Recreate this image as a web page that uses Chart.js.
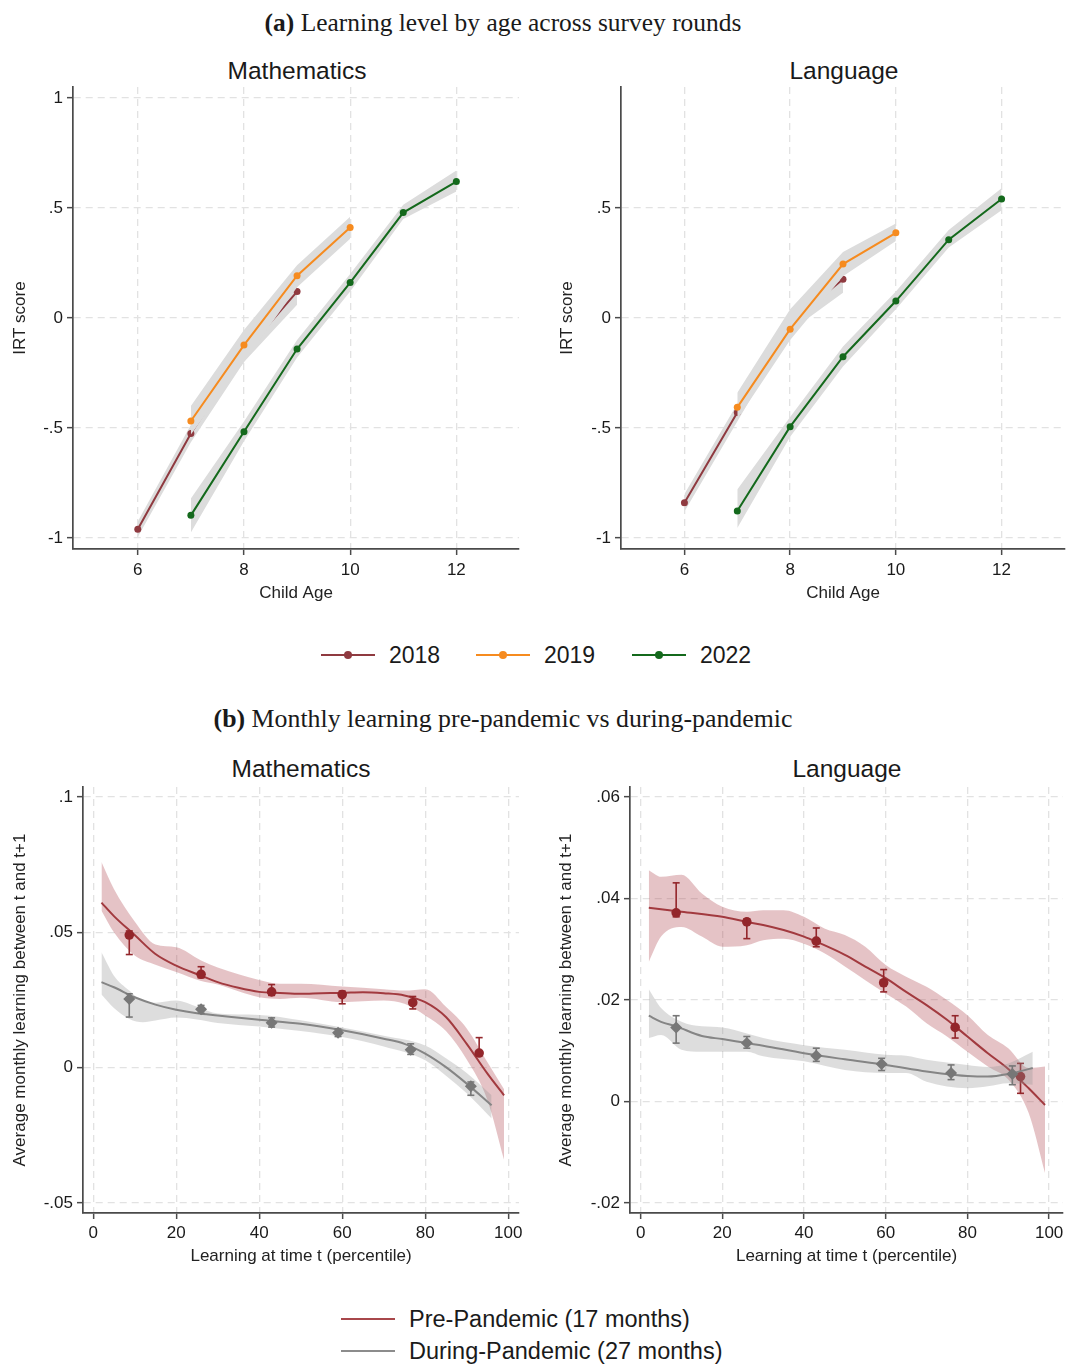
<!DOCTYPE html>
<html><head><meta charset="utf-8">
<script src="https://cdn.jsdelivr.net/npm/chart.js@4.4.1/dist/chart.umd.min.js"></script>
<style>
html,body{margin:0;padding:0;background:#fff;}
body{width:1069px;height:1364px;position:relative;overflow:hidden;font-family:'Liberation Sans',Arial,sans-serif;color:#1a1a1a;}
canvas{position:absolute;}
.c{position:absolute;white-space:nowrap;transform:translate(-50%,-50%);}
.l{position:absolute;white-space:nowrap;transform:translateY(-50%);}
.hdr{font-family:'Liberation Serif','Times New Roman',serif;font-size:22px;}
.ptitle{font-size:24.5px;color:#1a1a1a;}
.seg{position:absolute;height:2px;}
.dot{position:absolute;width:8px;height:8px;border-radius:50%;}
</style></head>
<body>
<div id="hA" class="c hdr" style="left:503px;top:23px"><b>(a)</b> Learning level by age across survey rounds</div>
<div id="hB" class="c hdr" style="left:503px;top:719px"><b>(b)</b> Monthly learning pre-pandemic vs during-pandemic</div>
<div class="c ptitle" style="left:297px;top:71px">Mathematics</div>
<div class="c ptitle" style="left:844px;top:71px">Language</div>
<div class="c ptitle" style="left:301px;top:769px">Mathematics</div>
<div class="c ptitle" style="left:847px;top:769px">Language</div>

<canvas id="cA1" width="530" height="590" style="left:0px;top:40px"></canvas>
<canvas id="cA2" width="529" height="590" style="left:540px;top:40px"></canvas>
<canvas id="cB1" width="530" height="540" style="left:0px;top:740px"></canvas>
<canvas id="cB2" width="529" height="540" style="left:540px;top:740px"></canvas>

<!-- legend (a) -->
<div class="seg" style="left:321px;top:654px;width:54px;background:#8f3a40"></div>
<div class="dot" style="left:344px;top:651px;background:#8f3a40"></div>
<div class="l" style="left:389px;top:655px;font-size:23px">2018</div>
<div class="seg" style="left:476px;top:654px;width:54px;background:#f68b1f"></div>
<div class="dot" style="left:499px;top:651px;background:#f68b1f"></div>
<div class="l" style="left:544px;top:655px;font-size:23px">2019</div>
<div class="seg" style="left:632px;top:654px;width:54px;background:#14691c"></div>
<div class="dot" style="left:655px;top:651px;background:#14691c"></div>
<div class="l" style="left:700px;top:655px;font-size:23px">2022</div>

<!-- legend (b) -->
<div class="seg" style="left:341px;top:1318px;width:54px;background:#a8474b"></div>
<div class="l" style="left:409px;top:1319px;font-size:23.5px">Pre-Pandemic (17 months)</div>
<div class="seg" style="left:341px;top:1350px;width:54px;background:#8c8c8c"></div>
<div class="l" style="left:409px;top:1351px;font-size:23.5px">During-Pandemic (27 months)</div>

<script>
// ================= DATA =================
// Panel (a): learning level by age
const ageTicks = [6, 8, 10, 12];
const ageTickLabels = ['6', '8', '10', '12'];
const irtTicksMath = [-1, -0.5, 0, 0.5, 1];
const irtLabelsMath = ['-1', '-.5', '0', '.5', '1'];
const irtTicksLang = [-1, -0.5, 0, 0.5];
const irtLabelsLang = ['-1', '-.5', '0', '.5'];

const ages2018 = [6, 7, 8, 9];
const ages2019 = [7, 8, 9, 10];
const ages2022 = [7, 8, 9, 10, 11, 12];

const math2018   = [-0.96, -0.525, -0.16, 0.12];
const math2018Hi = [-0.925, -0.485, -0.11, 0.165];
const math2018Lo = [-0.995, -0.565, -0.20, 0.06];
const math2019   = [-0.468, -0.123, 0.192, 0.411];
const math2019Hi = [-0.40, -0.055, 0.24, 0.46];
const math2019Lo = [-0.53, -0.20, 0.14, 0.36];
const math2022   = [-0.897, -0.517, -0.141, 0.161, 0.479, 0.62];
const math2022Hi = [-0.82, -0.47, -0.10, 0.20, 0.515, 0.67];
const math2022Lo = [-0.975, -0.56, -0.18, 0.12, 0.45, 0.575];

const lang2018   = [-0.84, -0.43, -0.02, 0.176];
const lang2018Hi = [-0.80, -0.39, 0.02, 0.21];
const lang2018Lo = [-0.88, -0.47, -0.06, 0.115];
const lang2019   = [-0.406, -0.051, 0.245, 0.387];
const lang2019Hi = [-0.34, 0.04, 0.30, 0.43];
const lang2019Lo = [-0.46, -0.10, 0.19, 0.35];
const lang2022   = [-0.877, -0.494, -0.176, 0.077, 0.356, 0.541];
const lang2022Hi = [-0.78, -0.45, -0.13, 0.12, 0.40, 0.59];
const lang2022Lo = [-0.955, -0.54, -0.22, 0.04, 0.32, 0.49];

// Panel (b): monthly learning by percentile
const pctTicks = [0, 20, 40, 60, 80, 100];
const pctTickLabels = ['0', '20', '40', '60', '80', '100'];
const gainTicksMath = [-0.05, 0, 0.05, 0.1];
const gainLabelsMath = ['-.05', '0', '.05', '.1'];
const gainTicksLang = [-0.02, 0, 0.02, 0.04, 0.06];
const gainLabelsLang = ['-.02', '0', '.02', '.04', '.06'];

// Mathematics, pre-pandemic
const mPreCurveX = [2, 5, 10, 15, 20, 26, 30, 35, 40, 45, 50, 55, 60, 65, 70, 75, 80, 85, 90, 95, 99];
const mPreCurveY = [0.061, 0.056, 0.049, 0.042, 0.0377, 0.034, 0.0316, 0.0295, 0.028, 0.0276, 0.0273, 0.0275, 0.0276, 0.0279, 0.0275, 0.0267, 0.0242, 0.0187, 0.0088, -0.0022, -0.0102];
const mPreBandX  = [2, 5, 10, 15, 20, 26, 30, 40, 45, 50, 60, 70, 75, 80, 85, 90, 95, 99];
const mPreBandHi = [0.076, 0.066, 0.054, 0.0455, 0.0445, 0.0396, 0.037, 0.0324, 0.031, 0.031, 0.030, 0.029, 0.0285, 0.029, 0.0225, 0.0145, 0.002, -0.008];
const mPreBandLo = [0.058, 0.050, 0.0414, 0.038, 0.0353, 0.032, 0.0307, 0.026, 0.0254, 0.0258, 0.0242, 0.0248, 0.0236, 0.0193, 0.0135, 0.003, -0.012, -0.034];
const mPrePtX  = [8.7, 26, 43, 60, 77, 93];
const mPrePtY  = [0.049, 0.0345, 0.028, 0.027, 0.024, 0.0054];
const mPrePtLo = [0.0418, 0.0332, 0.0267, 0.0236, 0.0217, 0.0045];
const mPrePtHi = [0.0505, 0.0373, 0.0307, 0.0283, 0.0263, 0.0111];

// Mathematics, during-pandemic
const mDurCurveX = [2, 5, 10, 15, 20, 25, 30, 40, 50, 60, 70, 75, 80, 85, 90, 96];
const mDurCurveY = [0.0316, 0.0297, 0.026, 0.0233, 0.0214, 0.0201, 0.0193, 0.0177, 0.0162, 0.0138, 0.0107, 0.0088, 0.0052, 0.0002, -0.0059, -0.0139];
const mDurBandX  = [2, 5, 8.7, 12, 15, 20, 25, 30, 40, 50, 60, 70, 80, 85, 90, 96];
const mDurBandHi = [0.0426, 0.034, 0.0285, 0.0245, 0.024, 0.0248, 0.0225, 0.020, 0.0195, 0.0175, 0.0148, 0.0118, 0.0082, 0.0035, -0.002, -0.0102];
const mDurBandLo = [0.027, 0.022, 0.018, 0.0168, 0.0174, 0.0185, 0.0178, 0.0165, 0.0152, 0.0135, 0.0113, 0.0078, 0.0027, -0.003, -0.0095, -0.0188];
const mDurPtX  = [8.7, 26, 43, 59, 76.5, 91];
const mDurPtY  = [0.0254, 0.0216, 0.0166, 0.0129, 0.0066, -0.0069];
const mDurPtLo = [0.0187, 0.0201, 0.015, 0.0115, 0.0049, -0.0102];
const mDurPtHi = [0.0273, 0.023, 0.0184, 0.0143, 0.0088, -0.0053];

// Language, pre-pandemic
const lPreCurveX = [2, 10, 20, 26, 30, 35, 40, 43, 50, 55, 60, 65, 70, 75, 80, 85, 90, 95, 99];
const lPreCurveY = [0.0382, 0.0374, 0.0364, 0.0354, 0.0348, 0.0338, 0.0325, 0.0315, 0.0289, 0.0266, 0.0243, 0.0216, 0.019, 0.0161, 0.0128, 0.0095, 0.0064, 0.0026, -0.0007];
const lPreBandX  = [2, 5, 10, 15, 20, 26, 30, 35, 40, 45, 50, 55, 60, 65, 70, 75, 80, 85, 90, 95, 99];
const lPreBandHi = [0.0456, 0.0443, 0.0447, 0.041, 0.0384, 0.0374, 0.0377, 0.0377, 0.0364, 0.0341, 0.0328, 0.0305, 0.0269, 0.0246, 0.0226, 0.020, 0.017, 0.0131, 0.0105, 0.0066, 0.0069];
const lPreBandLo = [0.0275, 0.0325, 0.0344, 0.0325, 0.0305, 0.0308, 0.0318, 0.0321, 0.0311, 0.0292, 0.0266, 0.0239, 0.0213, 0.0187, 0.0154, 0.0128, 0.0098, 0.0069, 0.0043, -0.0023, -0.0141];
const lPrePtX  = [8.7, 26, 43, 59.5, 77, 93];
const lPrePtY  = [0.0372, 0.0354, 0.0316, 0.0234, 0.0146, 0.0049];
const lPrePtLo = [0.0364, 0.0321, 0.0305, 0.0216, 0.0125, 0.0016];
const lPrePtHi = [0.0431, 0.036, 0.0342, 0.026, 0.0169, 0.0075];

// Language, during-pandemic
const lDurCurveX = [2, 5, 8.7, 15, 20, 26, 30, 40, 50, 60, 70, 77, 80, 85, 90, 96];
const lDurCurveY = [0.0169, 0.0157, 0.0148, 0.0129, 0.0123, 0.0115, 0.011, 0.0095, 0.0083, 0.0072, 0.0059, 0.0052, 0.005, 0.0049, 0.0054, 0.0066];
const lDurBandX  = [2, 5, 10, 15, 20, 26, 30, 40, 50, 60, 65, 70, 80, 85, 90, 96];
const lDurBandHi = [0.0221, 0.0184, 0.0157, 0.0148, 0.0146, 0.0134, 0.0125, 0.0111, 0.0102, 0.0092, 0.009, 0.0082, 0.0072, 0.0068, 0.0075, 0.0098];
const lDurBandLo = [0.0125, 0.0131, 0.0102, 0.0098, 0.0098, 0.0098, 0.0089, 0.0079, 0.0062, 0.0056, 0.0056, 0.0039, 0.0026, 0.003, 0.0036, 0.0033];
const lDurPtX  = [8.7, 26, 43, 59, 76, 91];
const lDurPtY  = [0.0146, 0.0115, 0.009, 0.0074, 0.0056, 0.0054];
const lDurPtLo = [0.0115, 0.0105, 0.0079, 0.0061, 0.0043, 0.0033];
const lDurPtHi = [0.0169, 0.0128, 0.0105, 0.0085, 0.0072, 0.007];

// ================= STYLE / HELPERS =================
const FONT = "'Liberation Sans', Arial, sans-serif";
Chart.defaults.font.family = FONT;
Chart.defaults.color = '#1a1a1a';

const C2018 = '#8f3a40', C2019 = '#f68b1f', C2022 = '#14691c';
const BAND_A = 'rgb(220,220,220)';
const CPRE = '#a23a3f', CPRE_PT = '#93262b', CPRE_BAND = 'rgba(170,55,65,0.30)';
const CDUR = '#858585', CDUR_PT = '#777777', CDUR_BAND = 'rgba(150,150,150,0.32)';

function xy(xs, ys) { return xs.map((x, i) => ({ x: x, y: ys[i] })); }
function errData(xs, lo, hi) {
  const d = [];
  xs.forEach((x, i) => { d.push({ x: x, y: lo[i] }, { x: x, y: hi[i] }, { x: x, y: null }); });
  return d;
}
function band(xs, hi, lo, color, order, smooth) {
  const common = { borderWidth: 0, pointRadius: 0, order: order };
  if (smooth) common.cubicInterpolationMode = 'monotone';
  return [
    Object.assign({ data: xy(xs, hi), fill: false }, common),
    Object.assign({ data: xy(xs, lo), fill: '-1', backgroundColor: color }, common)
  ];
}
function series(xs, ys, color, order) {
  return { data: xy(xs, ys), borderColor: color, backgroundColor: color, borderWidth: 2,
           pointRadius: 3.5, pointBackgroundColor: color, pointBorderWidth: 0, fill: false, order: order, tension: 0 };
}
function curve(xs, ys, color, order) {
  return { data: xy(xs, ys), borderColor: color, borderWidth: 2, pointRadius: 0, fill: false,
           cubicInterpolationMode: 'monotone', order: order };
}
function points(xs, ys, color, style, r, order) {
  return { data: xy(xs, ys), showLine: false, pointStyle: style, pointRadius: r, pointBackgroundColor: color,
           pointBorderColor: color, pointBorderWidth: 0, order: order };
}
function errbars(xs, lo, hi, color, order) {
  return { data: errData(xs, lo, hi), borderColor: color, borderWidth: 1.6, spanGaps: false, fill: false,
           pointStyle: 'line', pointRadius: 3.5, pointBorderColor: color, pointBorderWidth: 1.6, order: order };
}

function makeChart(id, o, datasets) {
  const axisColor = '#4a4a4a';
  return new Chart(document.getElementById(id), {
    type: 'line',
    data: { datasets: datasets },
    options: {
      responsive: false, animation: false, devicePixelRatio: 1,
      layout: { padding: o.pad },
      plugins: { legend: { display: false }, tooltip: { enabled: false }, title: { display: false } },
      scales: {
        x: {
          type: 'linear', min: o.xmin, max: o.xmax,
          afterBuildTicks: s => { s.ticks = o.xticks.map(v => ({ value: v })); },
          afterFit: s => { s.height = o.xh; },
          ticks: { callback: v => { const i = o.xticks.indexOf(v); return i >= 0 ? o.xlabels[i] : ''; },
                   font: { size: 17 }, color: '#1a1a1a', padding: o.xpad, maxRotation: 0, autoSkip: false },
          grid: { color: '#e2e2e2', lineWidth: 1.3, tickLength: 6, tickColor: axisColor, tickWidth: 1.5, tickBorderDash: [] },
          border: { display: true, color: axisColor, width: 1.7, dash: [7, 5] },
          title: { display: true, text: o.xtitle, font: { size: 17 }, color: '#222', padding: { top: 0, bottom: o.xtpad } }
        },
        y: {
          type: 'linear', min: o.ymin, max: o.ymax,
          afterBuildTicks: s => { s.ticks = o.yticks.map(v => ({ value: v })); },
          afterFit: s => { s.width = o.yw; },
          ticks: { callback: v => { const i = o.yticks.indexOf(v); return i >= 0 ? o.ylabels[i] : ''; },
                   font: { size: 17 }, color: '#1a1a1a', padding: 4, autoSkip: false },
          grid: { color: '#e2e2e2', lineWidth: 1.3, tickLength: 6, tickColor: axisColor, tickWidth: 1.5, tickBorderDash: [] },
          border: { display: true, color: axisColor, width: 1.7, dash: [7, 5] },
          title: { display: true, text: o.ytitle, font: { size: 17 }, color: '#222', padding: { top: o.ytpad, bottom: 0 } }
        }
      }
    }
  });
}

// ================= PANEL (a) =================
makeChart('cA1', {
  pad: { left: 0, right: 11, top: 47, bottom: 0 }, yw: 73, xh: 81, xpad: 5, xtpad: 26, ytpad: 10,
  xmin: 4.78, xmax: 13.18, xticks: ageTicks, xlabels: ageTickLabels, xtitle: 'Child Age',
  ymin: -1.05, ymax: 1.05, yticks: irtTicksMath, ylabels: irtLabelsMath, ytitle: 'IRT score'
}, [
  ...band(ages2018, math2018Hi, math2018Lo, BAND_A, 60),
  series(ages2018, math2018, C2018, 50),
  ...band(ages2019, math2019Hi, math2019Lo, BAND_A, 40),
  series(ages2019, math2019, C2019, 30),
  ...band(ages2022, math2022Hi, math2022Lo, BAND_A, 20),
  series(ages2022, math2022, C2022, 10)
]);

makeChart('cA2', {
  pad: { left: 0, right: 2, top: 47, bottom: 0 }, yw: 81, xh: 81, xpad: 5, xtpad: 26, ytpad: 17,
  xmin: 4.8, xmax: 13.2, xticks: ageTicks, xlabels: ageTickLabels, xtitle: 'Child Age',
  ymin: -1.05, ymax: 1.05, yticks: irtTicksLang, ylabels: irtLabelsLang, ytitle: 'IRT score'
}, [
  ...band(ages2018, lang2018Hi, lang2018Lo, BAND_A, 60),
  series(ages2018, lang2018, C2018, 50),
  ...band(ages2019, lang2019Hi, lang2019Lo, BAND_A, 40),
  series(ages2019, lang2019, C2019, 30),
  ...band(ages2022, lang2022Hi, lang2022Lo, BAND_A, 20),
  series(ages2022, lang2022, C2022, 10)
]);

// ================= PANEL (b) =================
const yTitleB = 'Average monthly learning between t and t+1';
const xTitleB = 'Learning at time t (percentile)';

makeChart('cB1', {
  pad: { left: 0, right: 11, top: 47, bottom: 0 }, yw: 83, xh: 67, xpad: 4.5, xtpad: 13, ytpad: 10,
  xmin: -2.45, xmax: 102.6, xticks: pctTicks, xlabels: pctTickLabels, xtitle: xTitleB,
  ymin: -0.0537, ymax: 0.1037, yticks: gainTicksMath, ylabels: gainLabelsMath, ytitle: yTitleB
}, [
  ...band(mPreBandX, mPreBandHi, mPreBandLo, CPRE_BAND, 80, true),
  curve(mPreCurveX, mPreCurveY, CPRE, 70),
  errbars(mPrePtX, mPrePtLo, mPrePtHi, CPRE_PT, 65),
  points(mPrePtX, mPrePtY, CPRE_PT, 'circle', 4.8, 60),
  ...band(mDurBandX, mDurBandHi, mDurBandLo, CDUR_BAND, 40, true),
  curve(mDurCurveX, mDurCurveY, CDUR, 30),
  errbars(mDurPtX, mDurPtLo, mDurPtHi, CDUR_PT, 25),
  points(mDurPtX, mDurPtY, CDUR_PT, 'rectRot', 6, 20)
]);

makeChart('cB2', {
  pad: { left: 0, right: 2, top: 47, bottom: 0 }, yw: 90, xh: 67, xpad: 4.5, xtpad: 13, ytpad: 16,
  xmin: -2.6, xmax: 103.4, xticks: pctTicks, xlabels: pctTickLabels, xtitle: xTitleB,
  ymin: -0.022, ymax: 0.062, yticks: gainTicksLang, ylabels: gainLabelsLang, ytitle: yTitleB
}, [
  ...band(lPreBandX, lPreBandHi, lPreBandLo, CPRE_BAND, 80, true),
  curve(lPreCurveX, lPreCurveY, CPRE, 70),
  errbars(lPrePtX, lPrePtLo, lPrePtHi, CPRE_PT, 65),
  points(lPrePtX, lPrePtY, CPRE_PT, 'circle', 4.8, 60),
  ...band(lDurBandX, lDurBandHi, lDurBandLo, CDUR_BAND, 40, true),
  curve(lDurCurveX, lDurCurveY, CDUR, 30),
  errbars(lDurPtX, lDurPtLo, lDurPtHi, CDUR_PT, 25),
  points(lDurPtX, lDurPtY, CDUR_PT, 'rectRot', 6, 20)
]);

// fit header widths to the reference
function fitWidth(id, target) {
  const el = document.getElementById(id);
  const w = el.getBoundingClientRect().width;
  const fs = parseFloat(getComputedStyle(el).fontSize);
  el.style.fontSize = (fs * target / w).toFixed(2) + 'px';
}
fitWidth('hA', 477);
fitWidth('hB', 579);
</script>
</body></html>
